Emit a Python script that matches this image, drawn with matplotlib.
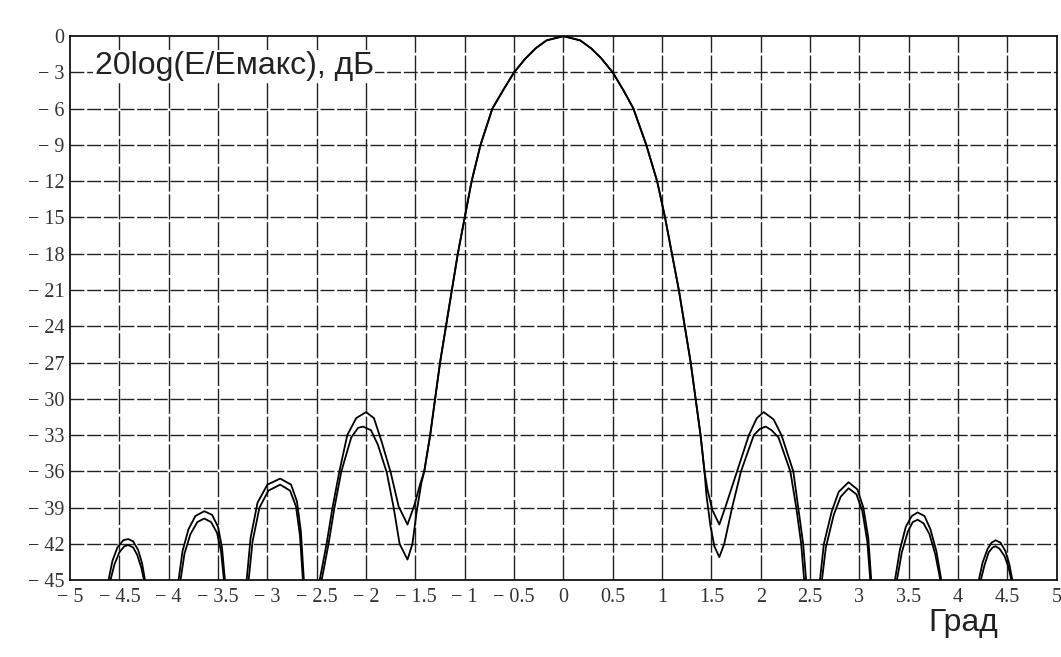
import matplotlib.pyplot as plt

# угол, град -- главный лепесток (у обеих кривых совпадает)
main_ang = [-1.41, -1.35, -1.30, -1.25, -1.19, -1.13, -1.07, -1.00, -0.93, -0.84, -0.72,
            -0.62, -0.50, -0.39, -0.28, -0.17, 0.0, 0.17, 0.28, 0.38, 0.50, 0.61, 0.71,
            0.84, 0.95, 1.03, 1.10, 1.17, 1.23, 1.29, 1.34, 1.39, 1.43]
main_db = [-36, -33, -30, -27, -24, -21, -18, -15, -12, -9, -6,
           -4.6, -3.0, -1.9, -1.0, -0.35, 0.0, -0.35, -1.0, -1.8, -3.0, -4.5, -6,
           -9, -12, -15, -18, -21, -24, -27, -30, -33, -36]

# кривая 1: боковые лепестки выше, провалы у главного мельче
left_ang_1 = [-4.62, -4.61, -4.57, -4.52, -4.46, -4.41, -4.36, -4.31, -4.27, -4.24, -4.23,
              -3.91, -3.90, -3.86, -3.80, -3.73, -3.64, -3.56, -3.50, -3.46, -3.43, -3.42,
              -3.22, -3.21, -3.17, -3.10, -3.00, -2.87, -2.76, -2.70, -2.66, -2.63, -2.62,
              -2.48, -2.47, -2.40, -2.34, -2.27, -2.19, -2.10, -2.00, -1.92, -1.84, -1.75,
              -1.67, -1.58, -1.51, -1.45]
left_db_1 = [-50, -45, -43.4, -42.3, -41.7, -41.6, -41.8, -42.5, -43.6, -45, -50,
             -50, -45, -42.6, -40.8, -39.7, -39.3, -39.6, -40.6, -42.3, -45, -50,
             -50, -45, -41.5, -38.6, -37.1, -36.6, -37.1, -38.5, -41.0, -45, -50,
             -50, -45, -42, -39, -36, -33, -31.6, -31.1, -31.6, -33.6, -36.1,
             -38.9, -40.4, -38.8, -37.0]
right_ang_1 = [1.46, 1.51, 1.58, 1.64, 1.76, 1.88, 1.96, 2.03, 2.13, 2.21, 2.33, 2.38, 2.43, 2.46, 2.47,
               2.59, 2.60, 2.64, 2.72, 2.79, 2.89, 2.98, 3.04, 3.09, 3.12, 3.13,
               3.35, 3.36, 3.41, 3.47, 3.53, 3.59, 3.66, 3.72, 3.78, 3.83, 3.84,
               4.20, 4.21, 4.25, 4.30, 4.34, 4.38, 4.43, 4.48, 4.52, 4.55, 4.56]
right_db_1 = [-37.5, -39.2, -40.4, -39, -36, -33, -31.6, -31.1, -31.7, -33, -36, -39, -42, -45, -50,
              -50, -45, -42, -39.3, -37.7, -36.9, -37.5, -39, -41.5, -45, -50,
              -50, -45, -42.5, -40.6, -39.7, -39.4, -39.7, -40.8, -42.6, -45, -50,
              -50, -45, -43.5, -42.4, -41.9, -41.7, -41.9, -42.6, -43.7, -45, -50]

# кривая 2: боковые лепестки ниже, провалы глубже
left_ang_2 = [-4.60, -4.59, -4.55, -4.50, -4.45, -4.41, -4.36, -4.32, -4.28, -4.25, -4.24,
              -3.89, -3.88, -3.84, -3.78, -3.71, -3.64, -3.57, -3.51, -3.47, -3.44, -3.43,
              -3.20, -3.19, -3.15, -3.08, -2.99, -2.87, -2.77, -2.71, -2.67, -2.64, -2.63,
              -2.46, -2.45, -2.38, -2.32, -2.25, -2.15, -2.08, -2.03, -1.95, -1.88, -1.79,
              -1.72, -1.66, -1.58, -1.53, -1.49, -1.44]
left_db_2 = [-50, -45, -43.7, -42.7, -42.2, -42.1, -42.3, -42.9, -43.9, -45, -50,
             -50, -45, -42.8, -41.2, -40.2, -39.9, -40.2, -41.1, -42.6, -45, -50,
             -50, -45, -41.8, -39.0, -37.6, -37.1, -37.6, -38.9, -41.3, -45, -50,
             -50, -45, -42, -39, -36, -33.2, -32.4, -32.3, -32.6, -33.8, -36.1,
             -39, -42, -43.3, -42.0, -39.5, -37.0]
right_ang_2 = [1.45, 1.49, 1.53, 1.58, 1.63, 1.71, 1.80, 1.93, 1.99, 2.05, 2.11, 2.18, 2.30, 2.36,
               2.41, 2.44, 2.45,
               2.61, 2.62, 2.66, 2.74, 2.81, 2.89, 2.97, 3.03, 3.08, 3.11, 3.12,
               3.37, 3.38, 3.43, 3.49, 3.54, 3.59, 3.65, 3.71, 3.77, 3.82, 3.83,
               4.22, 4.23, 4.27, 4.31, 4.35, 4.38, 4.42, 4.47, 4.51, 4.54, 4.55]
right_db_2 = [-38, -40.5, -42.2, -43.1, -42, -39, -36, -33, -32.5, -32.3, -32.6, -33.2, -36, -39,
              -42, -45, -50,
              -50, -45, -42.3, -39.6, -38.1, -37.4, -37.9, -39.3, -41.8, -45, -50,
              -50, -45, -42.7, -41.0, -40.2, -40.0, -40.3, -41.2, -42.9, -45, -50,
              -50, -45, -43.7, -42.7, -42.3, -42.2, -42.4, -43.0, -43.9, -45, -50]

# подписи осей
x_ticks = [-5, -4.5, -4, -3.5, -3, -2.5, -2, -1.5, -1, -0.5, 0, 0.5, 1, 1.5, 2, 2.5, 3, 3.5, 4, 4.5, 5]
x_labels = ['− 5', '− 4.5', '− 4', '− 3.5', '− 3', '− 2.5', '− 2', '− 1.5', '− 1', '− 0.5',
            '0', '0.5', '1', '1.5', '2', '2.5', '3', '3.5', '4', '4.5', '5']
y_ticks = [0, -3, -6, -9, -12, -15, -18, -21, -24, -27, -30, -33, -36, -39, -42, -45]
y_labels = ['0', '− 3', '− 6', '− 9', '− 12', '− 15', '− 18', '− 21', '− 24', '− 27',
            '− 30', '− 33', '− 36', '− 39', '− 42', '− 45']

ang_1 = left_ang_1 + main_ang + right_ang_1
db_1 = left_db_1 + main_db + right_db_1
ang_2 = left_ang_2 + main_ang + right_ang_2
db_2 = left_db_2 + main_db + right_db_2

fig = plt.figure(figsize=(10.61, 6.57), dpi=100)
ax = fig.add_axes([0.066, 0.117, 0.93, 0.828])

# сетка
for xv in x_ticks[1:-1]:
    ax.axvline(xv, color='#222222', lw=1.0, ls=(0, (18, 2)), zorder=1)
for yv in y_ticks[1:-1]:
    ax.axhline(yv, color='#222222', lw=1.0, ls=(0, (10, 2)), zorder=1)

ax.plot(ang_1, db_1, color='black', lw=1.3, zorder=3)
ax.plot(ang_2, db_2, color='black', lw=1.3, zorder=3)

ax.set_xlim(-5, 5)
ax.set_ylim(-45, 0)
ax.set_xticks(x_ticks)
ax.set_xticklabels(x_labels)
ax.set_yticks(y_ticks)
ax.set_yticklabels(y_labels)
ax.tick_params(length=0, labelsize=14.5, labelcolor='#333333')
ax.tick_params(axis='x', pad=6)
ax.tick_params(axis='y', pad=4)
for lab in ax.get_xticklabels() + ax.get_yticklabels():
    lab.set_family('Liberation Serif')
for sp in ax.spines.values():
    sp.set_linewidth(1.2)
    sp.set_color('black')

ax.text(0.025, 0.972, '20log(E/Eмакс), дБ', transform=ax.transAxes, ha='left', va='top',
        fontsize=23, family='Liberation Sans', color='#222222', zorder=5,
        bbox=dict(facecolor='white', edgecolor='none', pad=1))
fig.text(0.908, 0.052, 'Град', ha='center', va='center', fontsize=23,
         family='Liberation Sans', color='#222222')

fig.savefig('out.png', dpi=100)
